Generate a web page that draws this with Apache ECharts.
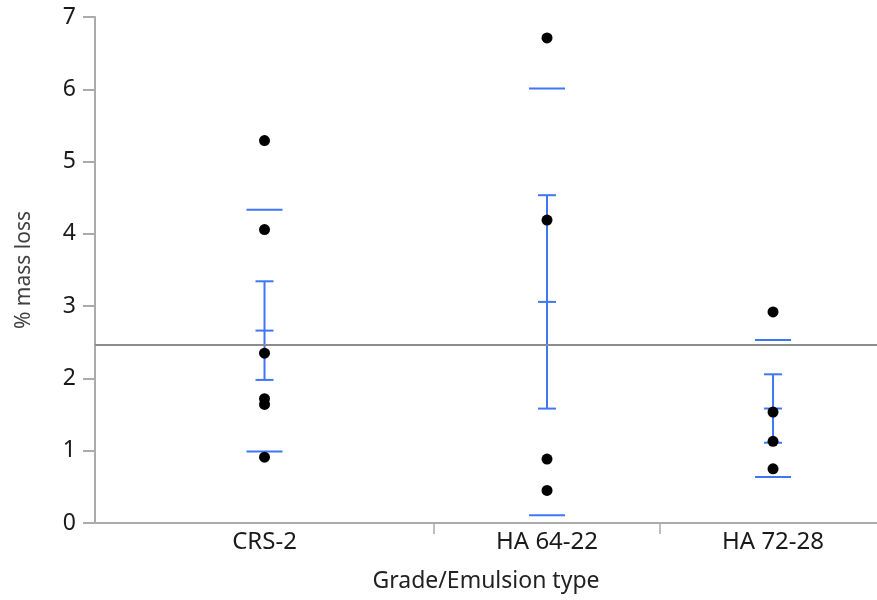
<!DOCTYPE html>
<html>
<head>
<meta charset="utf-8">
<script src="https://cdn.jsdelivr.net/npm/echarts@6/dist/echarts.min.js"></script>
<style>
  html, body { margin: 0; padding: 0; background: #ffffff; }
  #chart { width: 877px; height: 600px; }
</style>
</head>
<body>
<div id="chart"></div>
<script>
// Grade / emulsion groups and the individual % mass loss results
const categories = ['CRS-2', 'HA 64-22', 'HA 72-28'];
const crs2Values = [5.29, 4.06, 2.35, 1.72, 1.64, 0.91];
const ha6422Values = [6.71, 4.19, 0.885, 0.45];
const ha7228Values = [2.92, 1.535, 1.13, 0.75];
const yTickValues = [0, 1, 2, 3, 4, 5, 6, 7];

const groups = [crs2Values, ha6422Values, ha7228Values];

// Summary statistics per group
function mean(a) { return a.reduce((s, v) => s + v, 0) / a.length; }
function sd(a) {
  const m = mean(a);
  return Math.sqrt(a.reduce((s, v) => s + (v - m) * (v - m), 0) / (a.length - 1));
}

// Each group gets a band whose width is proportional to its sample size
const bandStarts = [];
const bandCenters = [];
let acc = 0;
groups.forEach(g => {
  bandStarts.push(acc);
  bandCenters.push(acc + g.length / 2);
  acc += g.length;
});
const bandEdges = bandStarts.slice(1);

const allValues = [].concat(...groups);
const grandMean = mean(allValues);

const pointData = [];
groups.forEach((g, i) => g.forEach(v => pointData.push([bandCenters[i], v])));

const statsData = groups.map((g, i) => {
  const m = mean(g), s = sd(g), se = s / Math.sqrt(g.length);
  return [bandCenters[i], m, m - s, m + s, m - se, m + se];
});

const FONT = "'Noto Sans', 'Open Sans', sans-serif";
const AXIS_GREY = '#ababab';
const BLUE = '#3f76f4';

const chart = echarts.init(document.getElementById('chart'), null, { renderer: 'canvas' });

chart.setOption({
  animation: false,
  backgroundColor: '#ffffff',
  grid: { left: 95, right: 0, top: 17, bottom: 77 },
  xAxis: [
    {
      type: 'value',
      min: 0,
      max: 13.84,
      name: 'Grade/Emulsion type',
      nameLocation: 'middle',
      nameGap: 47,
      nameTextStyle: { fontFamily: FONT, fontSize: 23, color: '#222222' },
      axisLine: { show: true, onZero: false, lineStyle: { color: AXIS_GREY, width: 2 } },
      axisTick: { show: true, customValues: bandEdges, length: 11, lineStyle: { color: AXIS_GREY, width: 1.5 } },
      axisLabel: {
        show: true,
        customValues: bandCenters,
        margin: 7,
        fontFamily: FONT,
        fontSize: 24,
        color: '#1a1a1a',
        formatter: function (v) {
          const i = bandCenters.findIndex(c => Math.abs(c - v) < 1e-6);
          return i >= 0 ? categories[i] : '';
        }
      },
      splitLine: { show: false }
    },
    {
      type: 'value',
      position: 'top',
      min: 0,
      max: 13.84,
      axisLine: { show: true, lineStyle: { color: AXIS_GREY, width: 2 } },
      axisTick: { show: false },
      axisLabel: { show: false },
      splitLine: { show: false }
    }
  ],
  yAxis: {
    type: 'value',
    min: yTickValues[0],
    max: yTickValues[yTickValues.length - 1],
    interval: 1,
    name: '% mass loss',
    nameLocation: 'middle',
    nameGap: 60,
    nameTextStyle: { fontFamily: FONT, fontSize: 21, color: '#404040' },
    axisLine: { show: true, lineStyle: { color: AXIS_GREY, width: 2 } },
    axisTick: { show: true, length: 12, lineStyle: { color: AXIS_GREY, width: 2 } },
    axisLabel: { margin: 19, fontFamily: FONT, fontSize: 23, color: '#1a1a1a' },
    splitLine: { show: false }
  },
  series: [
    {
      // grand mean reference line
      type: 'line',
      data: [],
      markLine: {
        silent: true,
        symbol: 'none',
        label: { show: false },
        lineStyle: { color: '#8c8c8c', width: 2, type: 'solid' },
        data: [{ yAxis: grandMean }]
      }
    },
    {
      // std dev lines, mean and standard error bars per group
      type: 'custom',
      data: statsData,
      z: 3,
      renderItem: function (params, api) {
        const x = api.value(0);
        const c = api.coord([x, api.value(1)]);
        const lo = api.coord([x, api.value(2)]);
        const hi = api.coord([x, api.value(3)]);
        const eLo = api.coord([x, api.value(4)]);
        const eHi = api.coord([x, api.value(5)]);
        const style = { stroke: BLUE, lineWidth: 2, fill: null };
        const seg = (x1, y1, x2, y2) => ({ type: 'line', shape: { x1, y1, x2, y2 }, style });
        const cx = c[0];
        return {
          type: 'group',
          children: [
            seg(cx - 18, hi[1], cx + 18, hi[1]),
            seg(cx - 18, lo[1], cx + 18, lo[1]),
            seg(cx, eHi[1], cx, eLo[1]),
            seg(cx - 9, eHi[1], cx + 9, eHi[1]),
            seg(cx - 9, eLo[1], cx + 9, eLo[1]),
            seg(cx - 9, c[1], cx + 9, c[1])
          ]
        };
      }
    },
    {
      type: 'scatter',
      data: pointData,
      symbol: 'circle',
      symbolSize: 11,
      z: 4,
      itemStyle: { color: '#000000', opacity: 1 }
    }
  ]
});
</script>
</body>
</html>
